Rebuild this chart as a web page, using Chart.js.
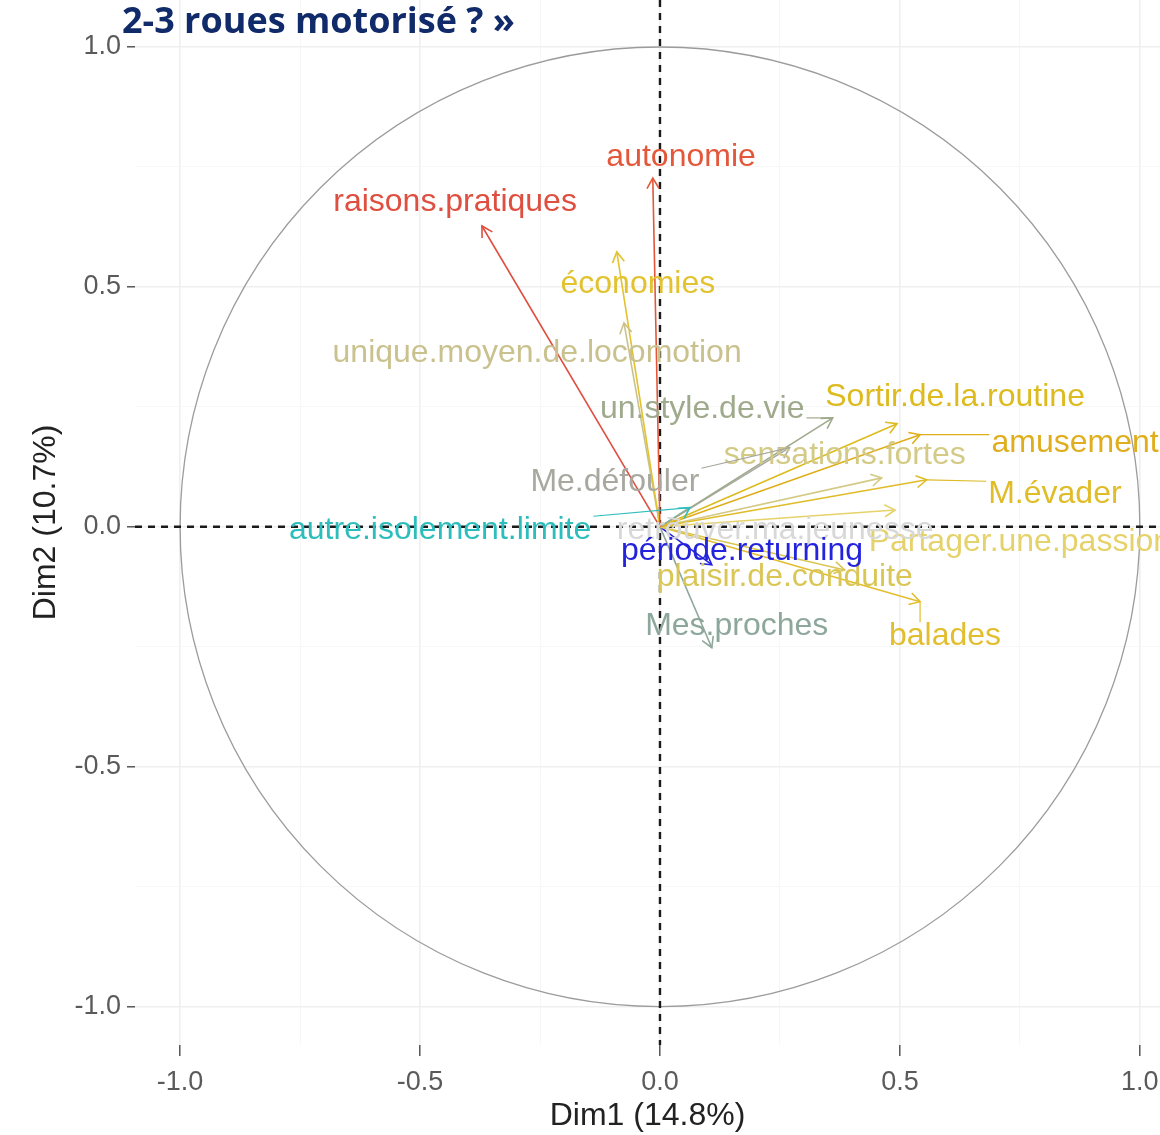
<!DOCTYPE html>
<html>
<head>
<meta charset="utf-8">
<title>Cercle des corrélations</title>
<script src="https://cdn.jsdelivr.net/npm/chart.js@4.4.1/dist/chart.umd.min.js"></script>
<style>
    html, body { margin: 0; padding: 0; background: #ffffff; }
    #wrap { position: relative; width: 1160px; height: 1135px; }
</style>
</head>
<body>
<div id="wrap"><canvas id="pcaVar"></canvas></div>
<script>
// variable coordinates (Dim1, Dim2)
var variables = [
    'autonomie', 'raisons.pratiques', 'économies', 'unique.moyen.de.locomotion',
    'un.style.de.vie', 'Sortir.de.la.routine', 'amusement', 'M.évader',
    'sensations.fortes', 'Partager.une.passion', 'plaisir.de.conduite', 'balades',
    'Mes.proches', 'Me.défouler', 'autre.isolement.limite', 'retrouver.ma.jeunesse',
    'période.returning'
];
var dim1 = [-0.015, -0.371, -0.090, -0.075, 0.360, 0.494, 0.542, 0.556, 0.462, 0.490, 0.385, 0.542, 0.108, 0.270, 0.062, 0.040, 0.108];
var dim2 = [0.727, 0.627, 0.573, 0.425, 0.227, 0.215, 0.192, 0.098, 0.102, 0.035, -0.090, -0.156, -0.252, 0.165, 0.040, 0.015, -0.079];

// where the (repelled) labels sit, same units
var labelDim1 = [0.044, -0.427, -0.046, -0.256, 0.088, 0.615, 0.865, 0.823, 0.385, 0.750, 0.260, 0.594, 0.160, -0.094, -0.458, 0.240, 0.171];
var labelDim2 = [0.771, 0.677, 0.506, 0.362, 0.246, 0.271, 0.175, 0.067, 0.150, -0.033, -0.104, -0.227, -0.208, 0.094, -0.006, -0.006, -0.050];

var varColors = [
    '#E3573A', '#DE4F40', '#E2C22E', '#C9C28E',
    '#9FAA8C', '#DDBB1E', '#E0AE1C', '#DFBC28',
    '#D3CA86', '#E6D26A', '#DAC655', '#E2BE2E',
    '#8EA79C', '#A8A8A0', '#2DBDBD', '#D8D8D8',
    '#2323DD'
];

var tickValues = [-1, -0.5, 0, 0.5, 1];
var minorTicks = [-0.75, -0.25, 0.25, 0.75];
var xTitle = 'Dim1 (14.8%)';
var yTitle = 'Dim2 (10.7%)';
var chartTitle = '2-3 roues motorisé ? »';

var FONT = '"Liberation Sans", Arial, sans-serif';

function allTicks() {
    return tickValues.concat(minorTicks).sort(function (a, b) { return a - b; })
        .map(function (v) { return { value: v }; });
}
function isMajor(v) {
    return tickValues.some(function (t) { return Math.abs(t - v) < 1e-9; });
}

var datasets = variables.map(function (name, i) {
    return {
        label: name,
        data: [{ x: 0, y: 0 }, { x: dim1[i], y: dim2[i] }],
        showLine: true,
        borderColor: varColors[i],
        borderWidth: 1.6,
        pointRadius: 0,
        pointHoverRadius: 0
    };
});

var backdrop = {
    id: 'backdrop',
    beforeDatasetsDraw: function (chart) {
        var ctx = chart.ctx, a = chart.chartArea;
        var sx = chart.scales.x, sy = chart.scales.y;
        var cx = sx.getPixelForValue(0), cy = sy.getPixelForValue(0);
        var rx = Math.abs(sx.getPixelForValue(1) - cx);
        var ry = Math.abs(sy.getPixelForValue(1) - cy);
        ctx.save();
        ctx.beginPath();
        ctx.rect(a.left, a.top, a.right - a.left, a.bottom - a.top);
        ctx.clip();
        // unit circle
        ctx.strokeStyle = '#9C9C9C';
        ctx.lineWidth = 1.3;
        ctx.beginPath();
        ctx.ellipse(cx, cy, rx, ry, 0, 0, Math.PI * 2);
        ctx.stroke();
        // dashed axes
        ctx.strokeStyle = '#1A1A1A';
        ctx.lineWidth = 2.4;
        ctx.setLineDash([7, 6]);
        ctx.beginPath();
        ctx.moveTo(a.left, cy); ctx.lineTo(a.right, cy);
        ctx.moveTo(cx, a.top); ctx.lineTo(cx, a.bottom);
        ctx.stroke();
        ctx.restore();
    }
};

function arrowHead(ctx, x0, y0, x1, y1, len) {
    var ang = Math.atan2(y1 - y0, x1 - x0);
    ctx.beginPath();
    ctx.moveTo(x1 - len * Math.cos(ang - Math.PI / 6), y1 - len * Math.sin(ang - Math.PI / 6));
    ctx.lineTo(x1, y1);
    ctx.lineTo(x1 - len * Math.cos(ang + Math.PI / 6), y1 - len * Math.sin(ang + Math.PI / 6));
    ctx.stroke();
}

var arrowsAndLabels = {
    id: 'arrowsAndLabels',
    afterDatasetsDraw: function (chart) {
        var ctx = chart.ctx, a = chart.chartArea;
        var sx = chart.scales.x, sy = chart.scales.y;
        var ox = sx.getPixelForValue(0), oy = sy.getPixelForValue(0);
        var fs = 32;
        ctx.save();
        ctx.beginPath();
        ctx.rect(a.left, a.top, a.right - a.left, a.bottom - a.top);
        ctx.clip();
        ctx.lineWidth = 1.6;
        variables.forEach(function (name, i) {
            var tx = sx.getPixelForValue(dim1[i]), ty = sy.getPixelForValue(dim2[i]);
            ctx.strokeStyle = varColors[i];
            arrowHead(ctx, ox, oy, tx, ty, 12);
        });
        ctx.font = fs + 'px ' + FONT;
        ctx.textAlign = 'center';
        ctx.textBaseline = 'middle';
        variables.forEach(function (name, i) {
            var tx = sx.getPixelForValue(dim1[i]), ty = sy.getPixelForValue(dim2[i]);
            var lx = sx.getPixelForValue(labelDim1[i]), ly = sy.getPixelForValue(labelDim2[i]);
            var w = ctx.measureText(name).width;
            var x0 = lx - w / 2 - 2, x1 = lx + w / 2 + 2, y0 = ly - fs * 0.42, y1 = ly + fs * 0.42;
            var px = Math.max(x0, Math.min(tx, x1)), py = Math.max(y0, Math.min(ty, y1));
            var d = Math.hypot(px - tx, py - ty);
            // only the longer repel segments show up in the reference
            if (d > 20) {
                ctx.strokeStyle = varColors[i];
                ctx.lineWidth = 1.2;
                ctx.beginPath();
                ctx.moveTo(tx, ty);
                ctx.lineTo(px, py);
                ctx.stroke();
            }
            ctx.fillStyle = varColors[i];
            ctx.fillText(name, lx, ly);
        });
        ctx.restore();
    },
    afterDraw: function (chart) {
        var ctx = chart.ctx;
        ctx.save();
        ctx.font = 'bold 36px "Open Sans", "Noto Sans", sans-serif';
        ctx.fillStyle = '#102A6A';
        ctx.textAlign = 'left';
        ctx.textBaseline = 'alphabetic';
        ctx.fillText(chartTitle, 122, 33);
        ctx.restore();
    }
};

new Chart(document.getElementById('pcaVar'), {
    type: 'scatter',
    data: { datasets: datasets },
    options: {
        responsive: true,
        maintainAspectRatio: false,
        animation: false,
        devicePixelRatio: 1,
        layout: { padding: 0 },
        plugins: {
            legend: { display: false },
            tooltip: { enabled: false }
        },
        scales: {
            x: {
                type: 'linear',
                min: -1.094,
                max: 1.042,
                afterBuildTicks: function (s) { s.ticks = allTicks(); },
                afterFit: function (s) {
                    s.height = 90;
                    s.paddingLeft = 0;
                    s.paddingRight = 0;
                },
                border: { display: false },
                grid: {
                    color: function (c) { return isMajor(c.tick.value) ? '#EFEFEF' : '#F7F7F7'; },
                    lineWidth: function (c) { return isMajor(c.tick.value) ? 1.6 : 1; },
                    tickColor: function (c) { return isMajor(c.tick.value) ? '#4A4A4A' : 'rgba(0,0,0,0)'; },
                    tickLength: 11,
                    tickWidth: 1.4
                },
                ticks: {
                    autoSkip: false,
                    maxRotation: 0,
                    padding: 10,
                    color: '#5A5A5A',
                    font: { family: FONT, size: 27 },
                    callback: function (v) { return isMajor(v) ? Number(v).toFixed(1) : ''; }
                },
                title: {
                    display: true,
                    text: xTitle,
                    color: '#222222',
                    font: { family: FONT, size: 32 },
                    padding: { top: 0, bottom: 0 }
                }
            },
            y: {
                type: 'linear',
                min: -1.08,
                max: 1.098,
                afterBuildTicks: function (s) { s.ticks = allTicks(); },
                afterFit: function (s) {
                    s.width = 135;
                    s.paddingTop = 0;
                    s.paddingBottom = 0;
                },
                border: { display: false },
                grid: {
                    color: function (c) { return isMajor(c.tick.value) ? '#EFEFEF' : '#F7F7F7'; },
                    lineWidth: function (c) { return isMajor(c.tick.value) ? 1.6 : 1; },
                    tickColor: function (c) { return isMajor(c.tick.value) ? '#4A4A4A' : 'rgba(0,0,0,0)'; },
                    tickLength: 8,
                    tickWidth: 1.4
                },
                ticks: {
                    autoSkip: false,
                    padding: 6,
                    color: '#5A5A5A',
                    font: { family: FONT, size: 27 },
                    callback: function (v) { return isMajor(v) ? Number(v).toFixed(1) : ''; }
                },
                title: {
                    display: true,
                    text: yTitle,
                    color: '#222222',
                    font: { family: FONT, size: 32 },
                    padding: { top: 27, bottom: 0 }
                }
            }
        }
    },
    plugins: [backdrop, arrowsAndLabels]
});
</script>
</body>
</html>
